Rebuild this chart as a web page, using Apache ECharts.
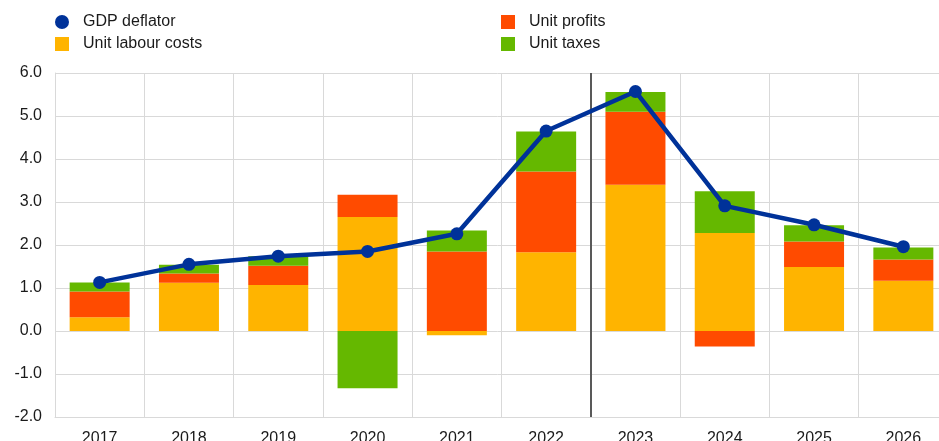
<!DOCTYPE html>
<html>
<head>
<meta charset="utf-8">
<script src="https://cdn.jsdelivr.net/npm/echarts@6/dist/echarts.min.js"></script>
<style>
html,body{margin:0;padding:0;background:#fff;}
#c{width:939px;height:441px;}
</style>
</head>
<body>
<div id="c"></div>
<script>
const categories = ['2017','2018','2019','2020','2021','2022','2023','2024','2025','2026'];
const unitLabourCosts = [0.32, 1.12, 1.07, 2.65, -0.10, 1.83, 3.40, 2.28, 1.49, 1.17];
const unitProfits     = [0.60, 0.22, 0.45, 0.52, 1.85, 1.88, 1.70, -0.36, 0.59, 0.49];
const unitTaxes       = [0.21, 0.20, 0.22, -1.33, 0.49, 0.93, 0.46, 0.97, 0.38, 0.28];
const gdpDeflator     = [1.13, 1.55, 1.74, 1.85, 2.26, 4.65, 5.57, 2.91, 2.47, 1.96];
const projectionStart = '2023';
const yTicks = [-2, -1, 0, 1, 2, 3, 4, 5, 6];

const FONT = 'Liberation Sans, Arial, sans-serif';
const TXT = '#1a1a1a';
const GRID = '#d9d9d9';

const chart = echarts.init(document.getElementById('c'), null, {renderer: 'canvas'});
const barCommon = {type: 'bar', stack: 'total', barWidth: 60, z: 2};
const legendCommon = {
  orient: 'vertical', top: 9, itemWidth: 14, itemGap: 6, itemHeight: 14,
  textStyle: {fontFamily: FONT, fontSize: 16, color: TXT, padding: [0, 0, 0, 9]},
  selectedMode: false
};
chart.setOption({
  animation: false,
  backgroundColor: '#fff',
  legend: [
    Object.assign({}, legendCommon, {left: 50, data: [{name: 'GDP deflator', icon: 'circle'}, {name: 'Unit labour costs', icon: 'rect'}]}),
    Object.assign({}, legendCommon, {left: 496, data: [{name: 'Unit profits', icon: 'rect'}, {name: 'Unit taxes', icon: 'rect'}]})
  ],
  grid: {left: 55, right: -9, top: 73, bottom: 24, containLabel: false, outerBoundsMode: 'none'},
  xAxis: [
    {
      type: 'category', data: categories,
      axisLine: {show: true, onZero: false, lineStyle: {color: GRID, width: 1}},
      axisTick: {show: false},
      splitLine: {show: true, lineStyle: {color: GRID, width: 1}},
      axisLabel: {fontFamily: FONT, fontSize: 16, color: TXT, margin: 14}
    },
    {
      type: 'value', min: 0, max: categories.length, show: false,
      splitLine: {show: false}
    }
  ],
  yAxis: {
    type: 'value', min: yTicks[0], max: yTicks[yTicks.length - 1], interval: 1,
    axisLine: {show: true, lineStyle: {color: GRID, width: 1}},
    axisTick: {show: false},
    splitLine: {show: true, lineStyle: {color: GRID, width: 1}},
    axisLabel: {fontFamily: FONT, fontSize: 16, color: TXT, margin: 13, formatter: v => v.toFixed(1)}
  },
  series: [
    Object.assign({}, barCommon, {name: 'Unit labour costs', data: unitLabourCosts, itemStyle: {color: '#ffb400'}}),
    Object.assign({}, barCommon, {name: 'Unit profits', data: unitProfits, itemStyle: {color: '#ff4b00'}}),
    Object.assign({}, barCommon, {name: 'Unit taxes', data: unitTaxes, itemStyle: {color: '#65b800'}}),
    {
      type: 'line', name: 'projection', xAxisIndex: 1, data: [], z: 3,
      markLine: {
        silent: true, symbol: 'none', label: {show: false},
        lineStyle: {color: '#595959', width: 2, type: 'solid'},
        data: [{xAxis: categories.indexOf(projectionStart)}]
      }
    },
    {
      type: 'line', name: 'GDP deflator', data: gdpDeflator, z: 5,
      symbol: 'circle', symbolSize: 13,
      lineStyle: {color: '#003299', width: 4.5},
      itemStyle: {color: '#003299'}
    }
  ]
});
</script>
</body>
</html>
